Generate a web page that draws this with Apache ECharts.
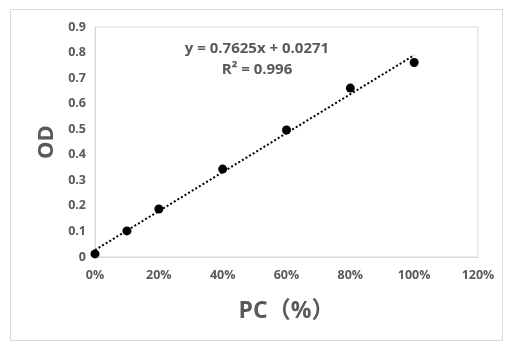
<!DOCTYPE html>
<html><head><meta charset="utf-8">
<script src="https://cdn.jsdelivr.net/npm/echarts@6/dist/echarts.min.js"></script>
<style>html,body{margin:0;padding:0;background:#fff}#c{width:511px;height:351px}</style>
</head><body><div id="c"></div>
<script>
const xValues = [0, 0.1, 0.2, 0.4, 0.6, 0.8, 1.0];
const odValues = [0.012, 0.102, 0.188, 0.344, 0.497, 0.661, 0.761];
const trendX = [0, 1.0];
const trendY = [0.0271, 0.7896];
const equationText = 'y = 0.7625x + 0.0271';
const r2Text = 'R² = 0.996';
const xTitle = 'PC（%）';
const yTitle = 'OD';

const chart = echarts.init(document.getElementById('c'), null, {renderer:'canvas'});
const fontFam = '"Open Sans","Noto Sans CJK SC",sans-serif';
const gray = '#595959';
chart.setOption({
  animation:false,
  backgroundColor:'#fff',
  graphic:[
    {type:'rect', shape:{x:10.5,y:9.5,width:492,height:331}, style:{fill:'none',stroke:'#d9d9d9',lineWidth:1}, z:-1},
    {type:'text', x:257, y:49, style:{text:equationText, textAlign:'center', textVerticalAlign:'middle', font:'bold 15px '+fontFam, fill:gray}},
    {type:'text', x:257, y:70, style:{text:r2Text, textAlign:'center', textVerticalAlign:'middle', font:'bold 15px '+fontFam, fill:gray}}
  ],
  grid:{left:95, right:33, top:27, bottom:94, show:true, borderColor:'#d9d9d9', borderWidth:1},
  xAxis:{type:'value', min:0, max:1.2, interval:0.2,
    name:xTitle, nameLocation:'middle', nameGap:43,
    nameTextStyle:{fontFamily:fontFam, fontWeight:'bold', fontSize:23, color:gray},
    axisLine:{show:true, lineStyle:{color:'#d9d9d9'}}, axisTick:{show:false}, splitLine:{show:false},
    axisLabel:{formatter:v=>Math.round(v*100)+'%', fontFamily:fontFam, fontWeight:'bold', fontSize:12.5, color:gray, margin:12}},
  yAxis:{type:'value', min:0, max:0.9, interval:0.1,
    name:yTitle, nameLocation:'middle', nameGap:36, nameRotate:90,
    nameTextStyle:{fontFamily:fontFam, fontWeight:'bold', fontSize:22, color:gray},
    axisLine:{show:true, lineStyle:{color:'#d9d9d9'}}, axisTick:{show:false}, splitLine:{show:false},
    axisLabel:{formatter:v=>v===0?'0':v.toFixed(1), fontFamily:fontFam, fontWeight:'bold', fontSize:12.5, color:gray, margin:9}},
  series:[
    {type:'line', data:trendX.map((x,i)=>[x,trendY[i]]), showSymbol:false, symbol:'none',
     lineStyle:{color:'#000', width:2, type:[2,2.2], cap:'butt'}, z:1},
    {type:'scatter', data:xValues.map((x,i)=>[x,odValues[i]]), symbolSize:9, itemStyle:{color:'#000', opacity:1}, z:2}
  ]
});
</script></body></html>
